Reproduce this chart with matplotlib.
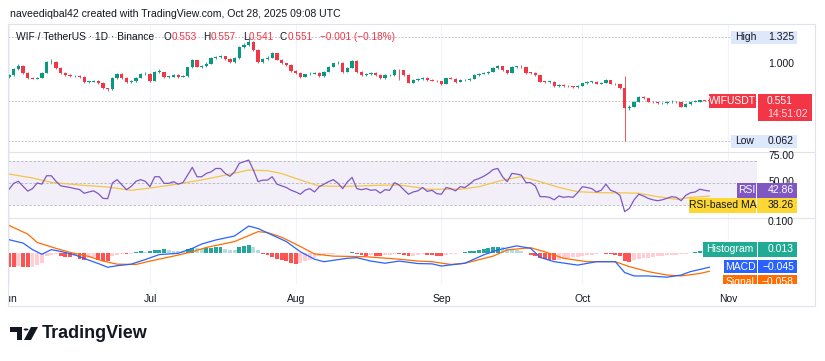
import matplotlib
matplotlib.use('Agg')
import matplotlib.pyplot as plt
from matplotlib.patches import Rectangle, Polygon, Circle
from matplotlib.transforms import Bbox, TransformedBbox
import pandas as pd

# ── Data ─────────────────────────────────────────────────────────────────────
start = pd.Timestamp('2025-06-01')
first_open = 0.84
closes = [0.86, 0.94, 0.97, 0.89, 0.83, 0.82, 0.83, 0.89, 1.02, 1.02,
          0.95, 0.89, 0.86, 0.85, 0.85, 0.84, 0.78, 0.78, 0.79, 0.765,
          0.70, 0.69, 0.83, 0.875, 0.83, 0.78, 0.785, 0.83, 0.87, 0.88,
          0.79, 0.90, 0.90, 0.84, 0.84, 0.86, 0.84, 0.85, 0.957, 1.045,
          0.965, 0.97, 1.00, 1.066, 1.08, 1.09, 1.06, 1.02, 1.065, 1.207,
          1.228, 1.268, 1.167, 1.025, 1.06, 1.075, 1.127, 1.05, 1.005, 0.99,
          0.91, 0.884, 0.84, 0.87, 0.88, 0.89, 0.85, 0.90, 0.965, 1.005,
          1.01, 0.90, 0.95, 1.037, 0.90, 0.86, 0.87, 0.89, 0.86, 0.823,
          0.86, 0.86, 0.925, 0.92, 0.86, 0.77, 0.80, 0.81, 0.83, 0.80,
          0.795, 0.785, 0.755, 0.823, 0.82, 0.78, 0.80, 0.80, 0.82, 0.86,
          0.88, 0.89, 0.90, 0.945, 0.97, 0.925, 0.89, 0.96, 0.96, 0.955,
          0.891, 0.89, 0.86, 0.782, 0.78, 0.78, 0.73, 0.74, 0.73, 0.725,
          0.72, 0.73, 0.762, 0.78, 0.78, 0.76, 0.77, 0.80, 0.76, 0.75,
          0.70, 0.46, 0.48, 0.54, 0.60, 0.58, 0.54, 0.53, 0.52, 0.525,
          0.53, 0.54, 0.53, 0.478, 0.51, 0.54, 0.54, 0.555, 0.553, 0.551]
highs = [0.875, 0.95, 1.00, 0.98, 0.90, 0.845, 0.845, 0.90, 1.03, 1.06,
         1.03, 0.96, 0.90, 0.875, 0.865, 0.86, 0.85, 0.795, 0.80, 0.80,
         0.775, 0.71, 0.84, 0.885, 0.885, 0.84, 0.80, 0.84, 0.885, 0.905,
         0.89, 0.91, 0.94, 0.905, 0.855, 0.87, 0.87, 0.865, 0.965, 1.06,
         1.05, 0.985, 1.02, 1.08, 1.10, 1.11, 1.10, 1.07, 1.08, 1.22,
         1.25, 1.325, 1.28, 1.175, 1.075, 1.09, 1.14, 1.135, 1.06, 1.015,
         1.00, 0.92, 0.895, 0.88, 0.895, 0.90, 0.90, 0.91, 0.975, 1.015,
         1.03, 1.02, 0.96, 1.05, 1.045, 0.91, 0.885, 0.90, 0.895, 0.87,
         0.87, 0.875, 0.935, 0.94, 0.925, 0.87, 0.81, 0.825, 0.84, 0.835,
         0.81, 0.805, 0.79, 0.83, 0.835, 0.825, 0.81, 0.815, 0.83, 0.87,
         0.89, 0.90, 0.91, 0.955, 0.98, 0.975, 0.93, 0.97, 0.975, 0.99,
         0.96, 0.905, 0.895, 0.865, 0.795, 0.795, 0.785, 0.75, 0.75, 0.74,
         0.735, 0.74, 0.77, 0.79, 0.795, 0.79, 0.78, 0.81, 0.805, 0.77,
         0.76, 0.85, 0.50, 0.55, 0.61, 0.61, 0.585, 0.55, 0.535, 0.535,
         0.545, 0.555, 0.55, 0.535, 0.52, 0.55, 0.555, 0.565, 0.565, 0.557]
lows = [0.83, 0.85, 0.93, 0.88, 0.82, 0.81, 0.81, 0.825, 0.885, 1.00,
        0.94, 0.88, 0.85, 0.835, 0.835, 0.83, 0.77, 0.765, 0.775, 0.755,
        0.69, 0.675, 0.685, 0.82, 0.82, 0.77, 0.77, 0.78, 0.825, 0.865,
        0.78, 0.785, 0.885, 0.83, 0.825, 0.835, 0.83, 0.835, 0.845, 0.95,
        0.955, 0.95, 0.965, 0.995, 1.055, 1.07, 1.05, 1.01, 1.01, 1.06,
        1.19, 1.215, 1.155, 1.01, 1.015, 1.05, 1.07, 1.04, 0.995, 0.975,
        0.90, 0.875, 0.83, 0.835, 0.865, 0.87, 0.84, 0.845, 0.895, 0.96,
        0.995, 0.89, 0.895, 0.945, 0.89, 0.85, 0.855, 0.86, 0.85, 0.815,
        0.82, 0.85, 0.855, 0.80, 0.85, 0.765, 0.765, 0.79, 0.805, 0.79,
        0.785, 0.775, 0.745, 0.75, 0.81, 0.77, 0.775, 0.79, 0.795, 0.815,
        0.855, 0.87, 0.88, 0.895, 0.94, 0.915, 0.88, 0.885, 0.95, 0.945,
        0.88, 0.88, 0.85, 0.775, 0.77, 0.77, 0.72, 0.72, 0.72, 0.715,
        0.71, 0.70, 0.725, 0.755, 0.77, 0.75, 0.755, 0.765, 0.75, 0.74,
        0.69, 0.062, 0.44, 0.47, 0.53, 0.57, 0.535, 0.52, 0.51, 0.51,
        0.515, 0.525, 0.52, 0.47, 0.47, 0.505, 0.53, 0.535, 0.545, 0.541]

rsi = [44.4, 49.7, 51.5, 47.0, 42.8, 45.0, 50.0, 49.0, 56.5, 56.5,
       51.5, 47.5, 46.8, 46.0, 45.0, 44.2, 40.8, 42.0, 43.0, 40.5,
       36.3, 36.0, 50.0, 53.0, 48.5, 44.0, 47.0, 51.5, 53.0, 51.5,
       46.7, 55.6, 55.6, 49.7, 49.7, 51.2, 49.0, 50.3, 57.0, 64.0,
       55.6, 55.6, 58.6, 60.0, 63.0, 63.0, 58.6, 56.0, 60.0, 67.6,
       69.0, 70.5, 61.6, 51.2, 52.6, 52.6, 55.6, 49.0, 47.5, 46.0,
       43.6, 42.0, 40.0, 43.6, 45.0, 42.0, 46.7, 49.0, 51.2, 53.0,
       49.7, 45.0, 51.0, 55.0, 45.0, 44.0, 45.0, 43.5, 44.0, 41.0,
       44.0, 43.5, 50.3, 48.2, 44.0, 40.0, 42.0, 43.0, 46.0, 42.5,
       43.5, 40.5, 40.0, 46.0, 45.0, 43.0, 46.7, 46.0, 49.0, 52.6,
       54.0, 56.0, 58.6, 62.0, 63.0, 55.6, 51.2, 58.6, 58.0, 57.0,
       50.3, 50.3, 47.3, 37.8, 37.8, 37.2, 35.0, 38.4, 37.2, 37.8,
       37.2, 41.5, 46.7, 46.0, 45.0, 42.0, 43.5, 49.0, 43.5, 42.0,
       39.0, 24.4, 27.4, 35.0, 40.0, 38.4, 36.3, 35.0, 34.2, 35.0,
       36.3, 37.8, 37.2, 34.2, 39.0, 41.3, 42.0, 44.5, 43.5, 42.86]

rsi_ma_days = [0, 5, 9, 15, 21, 26, 30, 35, 41, 46, 51, 55, 58, 62, 66, 72,
               79, 83, 87, 89, 96, 100, 104, 107, 109, 113, 117, 121, 126,
               130, 134, 138, 142, 145, 149]
rsi_ma = [58.0, 54.5, 50.6, 48.2, 46.4, 43.5, 45.5, 48.5, 52.7, 57.0, 61.6,
          61.0, 58.5, 52.7, 47.3, 47.0, 48.0, 48.2, 46.0, 44.4, 44.4, 46.7,
          51.5, 54.2, 55.6, 51.2, 46.1, 42.2, 41.3, 41.3, 40.8, 37.8, 35.4,
          37.2, 38.26]

macd_days = [0, 3, 5, 7, 9, 11, 14, 17, 19, 21, 23, 26, 29, 32, 36, 39, 41,
             44, 48, 51, 53, 56, 59, 62, 65, 67, 72, 74, 77, 80, 83, 87, 90,
             92, 97, 101, 104, 108, 111, 113, 116, 121, 125, 129, 131, 133,
             136, 140, 143, 145, 149]
macd = [0.044, 0.033, 0.012, -0.003, 0.012, 0.006, -0.005, -0.022, -0.033,
        -0.045, -0.040, -0.035, -0.020, -0.004, 0.000, 0.016, 0.030, 0.043,
        0.056, 0.088, 0.080, 0.059, 0.038, 0.005, -0.019, -0.027, -0.016,
        -0.014, -0.025, -0.032, -0.025, -0.033, -0.034, -0.041, -0.032,
        -0.005, 0.011, 0.024, 0.016, -0.013, -0.027, -0.038, -0.027, -0.027,
        -0.062, -0.073, -0.073, -0.077, -0.070, -0.059, -0.045]

signal_days = [0, 4, 6, 10, 13, 17, 20, 23, 27, 30, 35, 39, 42, 48, 53, 55,
               58, 62, 65, 69, 76, 83, 87, 90, 94, 97, 103, 106, 111, 114,
               118, 123, 129, 132, 136, 140, 143, 147, 149]
signal = [0.090, 0.062, 0.035, 0.016, 0.003, -0.010, -0.025, -0.035, -0.036,
          -0.025, -0.009, 0.005, 0.019, 0.038, 0.070, 0.067, 0.052, 0.022,
          -0.002, -0.009, -0.011, -0.019, -0.025, -0.027, -0.036, -0.032,
          -0.009, 0.011, 0.018, 0.005, -0.016, -0.027, -0.027, -0.043,
          -0.059, -0.070, -0.073, -0.065, -0.058]

hist = [-0.043, -0.043, -0.042, -0.043, -0.044, -0.043, -0.037, -0.030, -0.008, -0.004,
        -0.003, -0.008, -0.011, -0.012, -0.010, -0.018, -0.022, -0.015, -0.012, -0.020,
        -0.024, -0.025, -0.010, -0.004, -0.002, -0.003, -0.001, 0.003, 0.006, 0.005,
        0.007, 0.010, 0.012, 0.013, 0.010, 0.009, 0.008, 0.007, 0.014, 0.018,
        0.016, 0.014, 0.016, 0.018, 0.019, 0.019, 0.015, 0.012, 0.010, 0.020,
        0.024, 0.027, 0.022, 0.012, -0.002, -0.004, -0.012, -0.018, -0.022, -0.026,
        -0.030, -0.034, -0.030, -0.025, -0.020, -0.015, -0.010, -0.006, -0.003, -0.001,
        0.001, 0.000, 0.001, 0.003, -0.002, -0.007, -0.008, -0.005, -0.008, -0.009,
        -0.006, -0.004, -0.001, -0.002, -0.007, -0.009, -0.008, -0.005, -0.003, -0.006,
        -0.007, -0.008, -0.009, -0.004, -0.002, -0.001, 0.002, 0.004, 0.006, 0.008,
        0.010, 0.013, 0.016, 0.019, 0.022, 0.020, 0.014, 0.012, 0.010, 0.006,
        0.002, -0.004, -0.010, -0.016, -0.019, -0.021, -0.022, -0.020, -0.017, -0.015,
        -0.013, -0.011, -0.009, -0.007, -0.005, -0.003, 0.001, -0.001, -0.003, -0.005,
        -0.010, -0.025, -0.027, -0.022, -0.018, -0.016, -0.014, -0.012, -0.010, -0.008,
        -0.007, -0.006, -0.004, -0.003, -0.001, 0.002, 0.004, 0.008, 0.011, 0.013]

month_labels = ['Jun', 'Jul', 'Aug', 'Sep', 'Oct', 'Nov']
month_starts = ['2025-06-01', '2025-07-01', '2025-08-01', '2025-09-01',
                '2025-10-01', '2025-11-01']

opens = [first_open] + closes[:-1]
days = list(range(len(closes)))
month_pos = [(pd.Timestamp(m) - start).days for m in month_starts]

# ── Colours ──────────────────────────────────────────────────────────────────
UP = '#089981'
DOWN = '#f23645'
TEXT = '#131722'
GRID = '#f0f3fa'
FRAME = '#e0e3eb'
RSI_C = '#7e57c2'
MA_C = '#f2c64a'
MACD_C = '#2962ff'
SIG_C = '#ff6d00'

plt.rcParams['font.family'] = ['Liberation Sans', 'DejaVu Sans']

W, H = 825, 361
fig = plt.figure(figsize=(W / 100, H / 100), dpi=100, facecolor='white')
renderer = fig.canvas.get_renderer()

def fx(x):
    return x / W

def fy(y):
    return 1 - y / H

PX_DAY = 4.70
X0 = 8
XL = -1 / PX_DAY
XR = XL + (757 - X0) / PX_DAY

def pane(top, bottom):
    ax = fig.add_axes([fx(X0), fy(bottom), (757 - X0) / W, (bottom - top) / H])
    ax.set_xlim(XL, XR)
    for s in ax.spines.values():
        s.set_visible(False)
    ax.set_xticks(month_pos)
    ax.tick_params(length=0, labelbottom=False, left=False, labelleft=False)
    ax.grid(True, axis='x', color=GRID, linewidth=0.8)
    ax.set_axisbelow(True)
    return ax

ax_p = pane(24, 152)
ax_r = pane(152, 218)
ax_m = pane(218, 284)

# ── Price pane ───────────────────────────────────────────────────────────────
ax_p.set_ylim(-0.072, 1.483)
for i in days:
    o, c = opens[i], closes[i]
    col = UP if c >= o else DOWN
    ax_p.vlines(i, lows[i], highs[i], color=col, linewidth=0.6, zorder=2)
    ax_p.bar(i, max(abs(c - o), 0.007), bottom=min(o, c), width=0.72,
             color=col, linewidth=0, zorder=3)
for lvl in (max(highs), closes[-1], min(lows)):
    ax_p.axhline(lvl, color='#b2b5be', linewidth=0.6, linestyle=(0, (2, 2)), zorder=1)

# ── RSI pane ─────────────────────────────────────────────────────────────────
ax_r.set_ylim(18.75, 77.7)
ax_r.axhspan(30, 70, color=RSI_C, alpha=0.09, linewidth=0, zorder=0)
for lvl in (70, 50, 30):
    ax_r.axhline(lvl, color='#b2b5be', linewidth=0.6, linestyle=(0, (3, 2)), zorder=1)
ax_r.plot(rsi_ma_days, rsi_ma, color=MA_C, linewidth=0.9, zorder=2)
ax_r.plot(days, rsi, color=RSI_C, linewidth=0.9, zorder=3)

# ── MACD pane ────────────────────────────────────────────────────────────────
ax_m.set_ylim(-0.099, 0.114)
hcols = []
for i, v in enumerate(hist):
    prev = hist[i - 1] if i else v
    if v >= 0:
        hcols.append('#26a69a' if v >= prev else '#b2dfdb')
    else:
        hcols.append('#ffcdd2' if v > prev else '#ff5252')
ax_m.bar(days, hist, width=0.85, color=hcols, linewidth=0, zorder=1)
ax_m.plot(signal_days, signal, color=SIG_C, linewidth=0.9, zorder=2)
ax_m.plot(macd_days, macd, color=MACD_C, linewidth=0.9, zorder=3)

ax_m.tick_params(labelbottom=True, labelsize=7.5, labelcolor=TEXT, pad=7)
ax_m.set_xticklabels(month_labels)
clip_left = TransformedBbox(Bbox.from_extents(fx(X0), 0, 1, 1), fig.transFigure)
for lbl in ax_m.get_xticklabels():
    lbl.set_clip_box(clip_left)
    lbl.set_clip_on(True)

# ── Frame & separators ───────────────────────────────────────────────────────
def hline(y, x0=X0, x1=815, col=FRAME):
    fig.add_artist(plt.Line2D([fx(x0), fx(x1)], [fy(y), fy(y)], color=col,
                              linewidth=0.8, transform=fig.transFigure))

def vline(x, y0, y1, col=FRAME):
    fig.add_artist(plt.Line2D([fx(x), fx(x)], [fy(y0), fy(y1)], color=col,
                              linewidth=0.8, transform=fig.transFigure))

hline(24)
hline(152)
hline(218)
hline(306)
vline(X0, 24, 306)
vline(815, 24, 306)

# ── Header / legend texts ────────────────────────────────────────────────────
fig.text(fx(10), fy(14), 'naveediqbal42 created with TradingView.com, Oct 28, 2025 09:08 UTC',
         fontsize=7.6, color=TEXT, va='center', ha='left')

fig.text(fx(16), fy(37), 'WIF / TetherUS · 1D · Binance', fontsize=7.4, color=TEXT,
         va='center', ha='left')
ohlc = [(164, 'O', '0.553'), (203, 'H', '0.557'), (243, 'L', '0.541'), (280, 'C', '0.551')]
for x, key, val in ohlc:
    t = fig.text(fx(x), fy(37), key, fontsize=7.2, color=TEXT, va='center', ha='left')
    x1 = t.get_window_extent(renderer).x1
    fig.text(x1 / W + 0.3 / W, fy(37), val, fontsize=7.2, color=DOWN, va='center', ha='left')
fig.text(fx(320), fy(37), '−0.001 (−0.18%)', fontsize=7.2, color=DOWN, va='center', ha='left')

# ── Price-scale labels ───────────────────────────────────────────────────────
def box(x0, y0, x1, y1, col, z=5):
    fig.add_artist(Rectangle((fx(x0), fy(y1)), (x1 - x0) / W, (y1 - y0) / H,
                             facecolor=col, edgecolor='none', transform=fig.transFigure,
                             zorder=z))

def label(x, y, s, col=TEXT, ha='right', size=7.5, z=6, clip=None):
    t = fig.text(fx(x), fy(y), s, fontsize=size, color=col, ha=ha, va='center', zorder=z)
    if clip is not None:
        t.set_clip_box(clip)
        t.set_clip_on(True)
    return t

label(794, 64, '1.000', z=2)
label(794, 156, '75.00', z=2)
label(794, 182, '50.00', z=2)
label(794, 222, '0.100', z=2)

box(731, 31, 797, 44, '#dde9fb')
label(735, 37.5, 'High', ha='left')
label(794, 37.5, '1.325')
box(731, 135, 797, 148, '#dde9fb')
label(735, 141.5, 'Low', ha='left')
label(794, 141.5, '0.062')

box(709, 94, 756, 108, DOWN)
label(732.5, 101, 'WIFUSDT', col='white', ha='center')
box(758, 94, 812, 121, DOWN)
label(767, 101, '0.551', col='white', ha='left')
label(767, 114, '14:51:02', col='#ffe0e3', ha='left')

box(737, 183, 756, 198, RSI_C)
label(746.5, 190.5, 'RSI', col='white', ha='center')
box(757, 183, 797, 198, RSI_C)
label(794, 190.5, '42.86', col='white')
box(689, 198, 756, 213, '#fdd835')
label(722.5, 205.5, 'RSI-based MA', ha='center')
box(757, 198, 797, 213, '#fdd835')
label(794, 205.5, '38.26')

box(703, 242, 757, 257, '#22ab94')
label(730, 249.5, 'Histogram', col='white', ha='center')
box(758, 242, 797, 257, '#22ab94')
label(794, 249.5, '0.013', col='white')
box(724, 260, 757, 273, MACD_C)
label(740.5, 266.5, 'MACD', col='white', ha='center')
box(758, 260, 797, 273, MACD_C)
label(794, 266.5, '−0.045', col='white')
clip_sig = TransformedBbox(Bbox.from_extents(0, fy(284), 1, 1), fig.transFigure)
box(723, 275, 757, 284, SIG_C)
label(740, 282, 'Signal', col='white', ha='center', clip=clip_sig)
box(758, 275, 797, 284, SIG_C)
label(794, 282, '−0.058', col='white', clip=clip_sig)

# ── TradingView logo ─────────────────────────────────────────────────────────
LOGO = '#131722'
fig.add_artist(Polygon([(fx(10), fy(327)), (fx(22), fy(327)), (fx(22), fy(340)),
                        (fx(17), fy(340)), (fx(17), fy(331.5)), (fx(10), fy(331.5))],
                       closed=True, facecolor=LOGO, edgecolor='none', transform=fig.transFigure))
fig.add_artist(Circle((fx(26), fy(329.5)), 2.4 / W, facecolor=LOGO, edgecolor='none',
                      transform=fig.transFigure))
fig.add_artist(Polygon([(fx(31), fy(327)), (fx(38), fy(327)), (fx(31), fy(340)),
                        (fx(24), fy(340))],
                       closed=True, facecolor=LOGO, edgecolor='none', transform=fig.transFigure))
fig.text(fx(42), fy(333), 'TradingView', fontsize=13, fontweight='bold', color=LOGO,
         ha='left', va='center')

fig.savefig('out.png', dpi=100, facecolor='white')
